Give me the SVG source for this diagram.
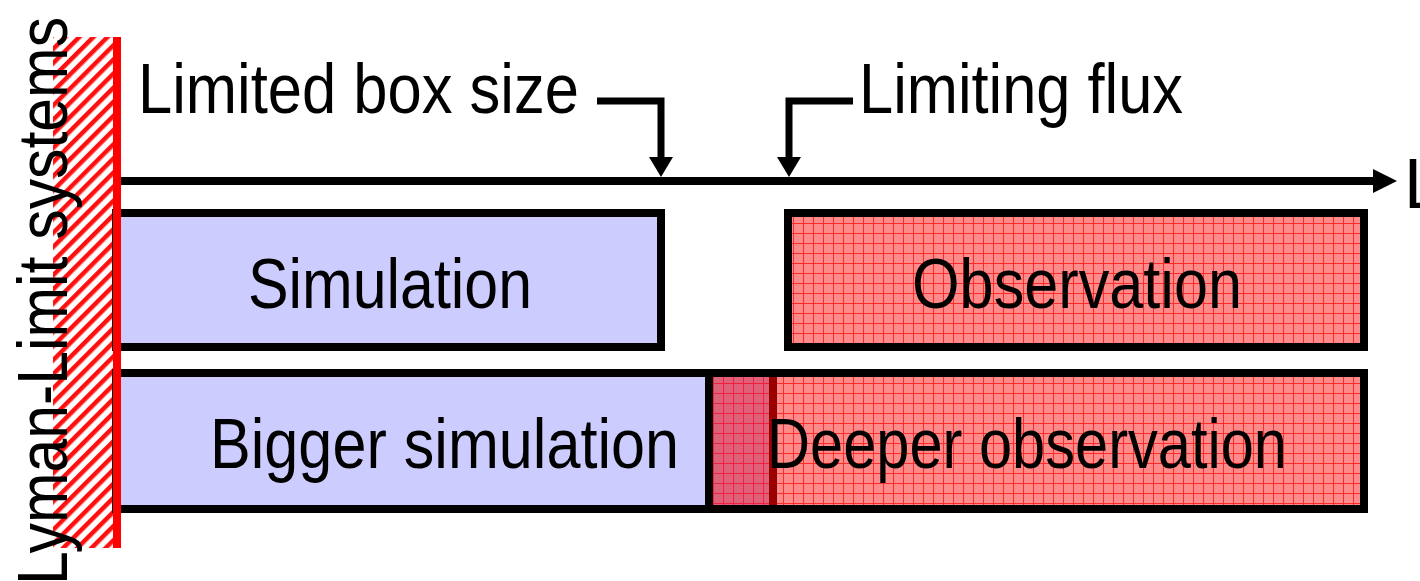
<svg xmlns="http://www.w3.org/2000/svg" width="1420" height="581" viewBox="0 0 1420 581">
<style>
.t{font-family:"Liberation Sans Narrow","Liberation Sans",Arial,sans-serif;font-size:70px;fill:#000}
.box{stroke:#000;stroke-width:8}
.ln{fill:none;stroke:#000;stroke-width:7}
</style>
<defs>
<pattern id="grid" width="10" height="10" patternUnits="userSpaceOnUse" x="3" y="3">
<rect width="10" height="10" fill="#FF8A8A"/>
<rect width="10" height="1" fill="#FF2A2A"/>
<rect width="1" height="10" fill="#FF2A2A"/>
</pattern>
<pattern id="grid2" width="10" height="10" patternUnits="userSpaceOnUse" x="3" y="3">
<rect width="10" height="10" fill="#E0607A"/>
<rect width="10" height="1" fill="#F02040"/>
<rect width="1" height="10" fill="#F02040"/>
</pattern>
<pattern id="hatch" width="10" height="10" patternUnits="userSpaceOnUse" patternTransform="rotate(45)">
<rect width="10" height="10" fill="#fff"/>
<rect width="4.5" height="10" fill="#FF1010"/>
</pattern>
</defs>
<rect width="1420" height="581" fill="#fff"/>
<g id="lls-strip">
<rect x="53" y="37" width="64" height="511" fill="url(#hatch)"/>
</g>
<g id="simulation">
<rect class="box" x="116" y="213" width="545" height="134" fill="#CCCCFF"/>
<text class="t" x="248" y="308" textLength="284" lengthAdjust="spacingAndGlyphs">Simulation</text>
</g>
<g id="observation">
<rect class="box" x="788" y="213" width="576" height="134" fill="url(#grid)"/>
<text class="t" x="912" y="308" textLength="330" lengthAdjust="spacingAndGlyphs">Observation</text>
</g>
<g id="bigger-simulation">
<rect x="116" y="373" width="593" height="136" fill="#CCCCFF"/>
<text class="t" x="210" y="468" textLength="469" lengthAdjust="spacingAndGlyphs">Bigger simulation</text>
</g>
<g id="overlap">
<rect x="709" y="373" width="64" height="136" fill="url(#grid2)"/>
</g>
<g id="deeper-observation">
<rect x="773" y="373" width="591" height="136" fill="url(#grid)"/>
<line x1="773" y1="377" x2="773" y2="506" stroke="#990000" stroke-width="8"/>
<text class="t" x="767" y="468" textLength="520" lengthAdjust="spacingAndGlyphs">Deeper observation</text>
</g>
<rect class="box" x="116" y="373" width="1248" height="136" fill="none"/>
<line x1="709" y1="373" x2="709" y2="509" stroke="#000" stroke-width="8"/>
<g id="connectors">
<line x1="116" y1="181" x2="1376" y2="181" stroke="#000" stroke-width="8"/>
<polygon points="1373,169 1397,181 1373,193" fill="#000"/>
<path class="ln" d="M597,101 H661 V160"/>
<polygon points="649,157 673,157 661,177" fill="#000"/>
<path class="ln" d="M853,101 H789 V160"/>
<polygon points="777,157 801,157 789,177" fill="#000"/>
</g>
<rect id="lls-edge" x="113" y="37" width="8" height="511" fill="#FF0000"/>
<g id="labels">
<text class="t" x="138" y="113" textLength="441" lengthAdjust="spacingAndGlyphs">Limited box size</text>
<text class="t" x="859" y="113" textLength="324" lengthAdjust="spacingAndGlyphs">Limiting flux</text>
<text class="t" x="1404" y="208">L</text>
<text class="t" transform="translate(67,585) rotate(-90)" x="0" y="0" textLength="568" lengthAdjust="spacingAndGlyphs">Lyman-Limit systems</text>
</g>
</svg>
